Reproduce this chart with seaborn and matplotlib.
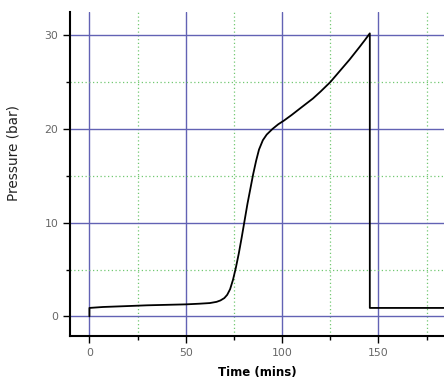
import numpy as np
import pandas as pd
import seaborn as sns
import matplotlib.pyplot as plt
from matplotlib.ticker import MultipleLocator

# pressure trace
time_mins = [0, 0, 7, 20, 30, 40, 50, 57, 62.5, 66, 68, 70, 71.5, 73, 74.5, 76, 77.5,
             79, 80.5, 82, 83.5, 85, 86.5, 88, 90, 92, 95, 98, 101, 105, 110, 116,
             120, 125, 130, 135, 140, 143, 145.5, 145.5, 160, 185]
pressure_bar = [0, 0.9, 1.0, 1.1, 1.18, 1.23, 1.28, 1.35, 1.42, 1.55, 1.7, 1.95, 2.3,
                2.9, 3.9, 5.2, 6.7, 8.4, 10.2, 12.0, 13.6, 15.2, 16.6, 17.8, 18.8, 19.4,
                20.0, 20.5, 20.9, 21.5, 22.3, 23.25, 24.0, 25.0, 26.2, 27.4, 28.7, 29.5,
                30.2, 0.9, 0.9, 0.9]

df = pd.DataFrame({'Time (mins)': time_mins, 'Pressure (bar)': pressure_bar})

sns.set_style('white')
fig = plt.figure(figsize=(4.44, 3.81), dpi=100)
ax = fig.add_axes([0.158, 0.118, 0.842, 0.851])

sns.lineplot(data=df, x='Time (mins)', y='Pressure (bar)', sort=False,
             estimator=None, color='black', linewidth=1.3, ax=ax, zorder=3)

ax.set_xlim(-10, 184)
ax.set_ylim(-2.1, 32.5)
ax.xaxis.set_major_locator(MultipleLocator(50))
ax.xaxis.set_minor_locator(MultipleLocator(25))
ax.yaxis.set_major_locator(MultipleLocator(10))
ax.yaxis.set_minor_locator(MultipleLocator(5))

ax.grid(which='major', color='#6262b4', linewidth=1.0, linestyle='-')
ax.grid(which='minor', color='#72c872', linewidth=0.9, linestyle=(0, (1, 2)))
ax.set_axisbelow(True)

for side in ['top', 'right']:
    ax.spines[side].set_visible(False)
for side in ['left', 'bottom']:
    ax.spines[side].set_color('black')
    ax.spines[side].set_linewidth(1.5)

ax.tick_params(which='major', direction='out', length=5, width=1, color='black',
               labelsize=7.8, labelcolor='#666666', left=True, bottom=True)
ax.tick_params(which='minor', direction='out', length=3, width=1, color='black',
               left=True, bottom=True)

ax.set_xlabel('Time (mins)', fontsize=8.5, fontweight='bold', color='black')
ax.set_ylabel('Pressure (bar)', fontsize=9.8, color='#222222')
ax.xaxis.set_label_coords(0.5, -0.092)
ax.yaxis.set_label_coords(-0.133, 0.565)

fig.savefig('out.png', dpi=100)
